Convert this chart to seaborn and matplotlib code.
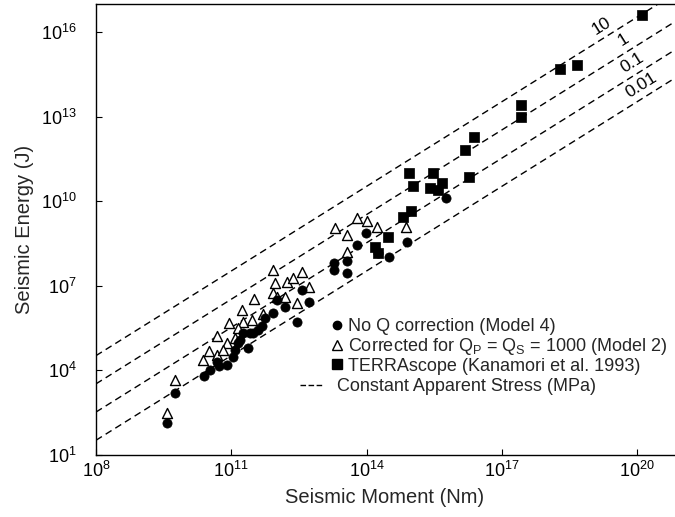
import numpy as np
import pandas as pd
import matplotlib
matplotlib.use("Agg")
import matplotlib.pyplot as plt
import seaborn as sns
from matplotlib.lines import Line2D

# ---------------- data (log10 values) ----------------
circle_log_moment = [9.57, 9.75, 10.39, 10.53, 10.68, 10.73, 10.90, 11.04, 11.08, 11.26,
                     11.37, 11.41, 11.48, 11.15, 11.68, 11.92, 12.19, 12.01, 12.46, 12.57,
                     12.72, 13.28, 13.28, 13.57, 13.57, 13.79, 13.99, 14.25, 14.50, 14.90,
                     15.76, 11.19, 11.59, 11.75]
circle_log_energy = [2.13, 3.20, 3.80, 4.01, 4.30, 4.16, 4.19, 4.48, 4.72, 5.33,
                     4.79, 5.33, 5.33, 4.97, 5.57, 6.04, 6.25, 6.50, 5.72, 6.85,
                     6.43, 7.81, 7.56, 7.88, 7.45, 8.45, 8.87, 8.16, 8.02, 8.55,
                     10.11, 5.08, 5.43, 5.86]

tri_log_moment = [9.57, 9.75, 10.37, 10.51, 10.68, 10.68, 10.90, 10.95, 11.08, 11.24,
                  11.26, 11.46, 11.50, 11.70, 11.92, 11.97, 11.92, 12.01, 12.19, 12.24,
                  12.37, 12.57, 12.46, 12.72, 13.30, 13.57, 13.79, 14.01, 14.23, 14.87,
                  13.57, 11.15, 10.82]
tri_log_energy = [2.49, 3.66, 4.37, 4.69, 5.22, 4.55, 4.97, 5.68, 5.15, 6.14,
                  5.72, 5.79, 6.53, 6.00, 7.56, 7.10, 6.74, 6.60, 6.60, 7.13,
                  7.28, 7.49, 6.39, 6.96, 9.05, 8.80, 9.40, 9.30, 9.09, 9.09,
                  8.20, 5.50, 4.72]

sq_log_moment = [20.11, 18.67, 18.29, 17.42, 17.42, 16.38, 16.18, 14.94, 15.47, 15.03,
                 15.41, 15.67, 15.58, 16.27, 14.98, 14.81, 14.47, 14.19, 14.25]
sq_log_energy = [16.60, 14.83, 14.69, 13.41, 12.99, 12.28, 11.82, 11.00, 11.00, 10.54,
                 10.47, 10.65, 10.40, 10.86, 9.65, 9.44, 8.73, 8.38, 8.16]

stress_mpa = [10, 1, 0.1, 0.01]
stress_labels = ["10", "1", "0.1", "0.01"]
stress_label_log_moment = [19.35, 19.84, 20.02, 20.24]
rigidity_pa = 3e10
line_log_moment_range = [8.0, 21.0]

x_ticks_exp = [8, 11, 14, 17, 20]
y_ticks_exp = [1, 4, 7, 10, 13, 16]

legend_labels = ["No Q correction (Model 4)",
                 r"Corrected for Q$_\mathregular{P}$ = Q$_\mathregular{S}$ = 1000 (Model 2)",
                 "TERRAscope (Kanamori et al. 1993)",
                 "Constant Apparent Stress (MPa)"]

# ---------------- style ----------------
sns.set_style("ticks")
plt.rcParams["font.family"] = ["Liberation Sans", "DejaVu Sans"]
plt.rcParams["mathtext.fontset"] = "custom"
plt.rcParams["mathtext.rm"] = "Liberation Sans"
plt.rcParams["mathtext.it"] = "Liberation Sans:italic"
plt.rcParams["mathtext.bf"] = "Liberation Sans:bold"

W, H = 675, 517
fig = plt.figure(figsize=(W / 100, H / 100), dpi=100)
ax_l, ax_r, ax_t, ax_b = 96, 674, 4, 455
ax = fig.add_axes([ax_l / W, 1 - ax_b / H, (ax_r - ax_l) / W, (ax_b - ax_t) / H])

circles = pd.DataFrame({"moment": 10 ** np.array(circle_log_moment),
                        "energy": 10 ** np.array(circle_log_energy)})
triangles = pd.DataFrame({"moment": 10 ** np.array(tri_log_moment),
                          "energy": 10 ** np.array(tri_log_energy)})
squares = pd.DataFrame({"moment": 10 ** np.array(sq_log_moment),
                        "energy": 10 ** np.array(sq_log_energy)})

# constant apparent stress lines  E = sigma * M / mu
mr = 10 ** np.array(line_log_moment_range)
for s in stress_mpa:
    ln = pd.DataFrame({"moment": mr, "energy": s * 1e6 * mr / rigidity_pa})
    sns.lineplot(data=ln, x="moment", y="energy", ax=ax, color="black",
                 linewidth=1.0, linestyle=(0, (5, 3.2)), zorder=1)

sns.scatterplot(data=triangles, x="moment", y="energy", ax=ax, marker="^", s=52,
                facecolor="white", edgecolor="black", linewidth=1.0, zorder=3)
sns.scatterplot(data=circles, x="moment", y="energy", ax=ax, marker="o", s=44,
                color="black", edgecolor="black", linewidth=0.5, zorder=4)
sns.scatterplot(data=squares, x="moment", y="energy", ax=ax, marker="s", s=62,
                color="black", edgecolor="black", linewidth=0.5, zorder=5)

ax.set_xscale("log")
ax.set_yscale("log")
ax.set_xlim(1e8, 10 ** 20.82)
ax.set_ylim(1e1, 10 ** 16.99)

ax.set_xticks([10.0 ** e for e in x_ticks_exp])
ax.set_xticklabels([r"$\mathregular{10^{%d}}$" % e for e in x_ticks_exp])
ax.set_yticks([10.0 ** e for e in y_ticks_exp])
ax.set_yticklabels([r"$\mathregular{10^{%d}}$" % e for e in y_ticks_exp])
ax.minorticks_off()
ax.tick_params(direction="in", length=4, width=0.8, labelsize=13, colors="black")
ax.tick_params(axis="x", pad=4)
ax.tick_params(axis="y", pad=14)

for sp in ["left", "bottom", "top"]:
    ax.spines[sp].set_linewidth(1.0)
    ax.spines[sp].set_color("black")
ax.spines["right"].set_visible(False)

ax.set_xlabel("Seismic Moment (Nm)", fontsize=14.5, labelpad=5)
ax.set_ylabel("Seismic Energy (J)", fontsize=14.5, labelpad=5)

# labels on the stress lines
angle = np.degrees(np.arctan((ax_b - ax_t) / 16.0 / ((ax_r - ax_l) / 12.82)))
for s, lab, lm in zip(stress_mpa, stress_labels, stress_label_log_moment):
    m = 10 ** lm
    e = s * 1e6 * m / rigidity_pa
    ax.annotate(lab, xy=(m, e), xytext=(-1.5, 2.5), textcoords="offset points",
                rotation=angle, rotation_mode="anchor", ha="center", va="bottom",
                fontsize=12.5, color="black")

# legends
fs = 13
h1 = [Line2D([], [], marker="o", linestyle="none", color="black", markersize=6),
      Line2D([], [], marker="^", linestyle="none", markerfacecolor="white",
             markeredgecolor="black", markersize=6.5, markeredgewidth=1.0),
      Line2D([], [], marker="s", linestyle="none", color="black", markersize=6.5)]
leg1 = ax.legend(h1, legend_labels[:3], loc="upper left",
                 bbox_to_anchor=((332 - ax_l) / (ax_r - ax_l), (ax_b - 318) / (ax_b - ax_t)),
                 frameon=False, fontsize=fs, handlelength=0.6, handletextpad=0.3,
                 borderpad=0, borderaxespad=0, labelspacing=0.05)
ax.add_artist(leg1)
h2 = [Line2D([], [], linestyle=(0, (4, 1.8)), color="black", linewidth=1.0)]
ax.legend(h2, legend_labels[3:], loc="upper left",
          bbox_to_anchor=((300 - ax_l) / (ax_r - ax_l), (ax_b - 378) / (ax_b - ax_t)),
          frameon=False, fontsize=fs, handlelength=1.22, handletextpad=0.83,
          borderpad=0, borderaxespad=0)

fig.savefig("out.png", dpi=100, facecolor="white")
